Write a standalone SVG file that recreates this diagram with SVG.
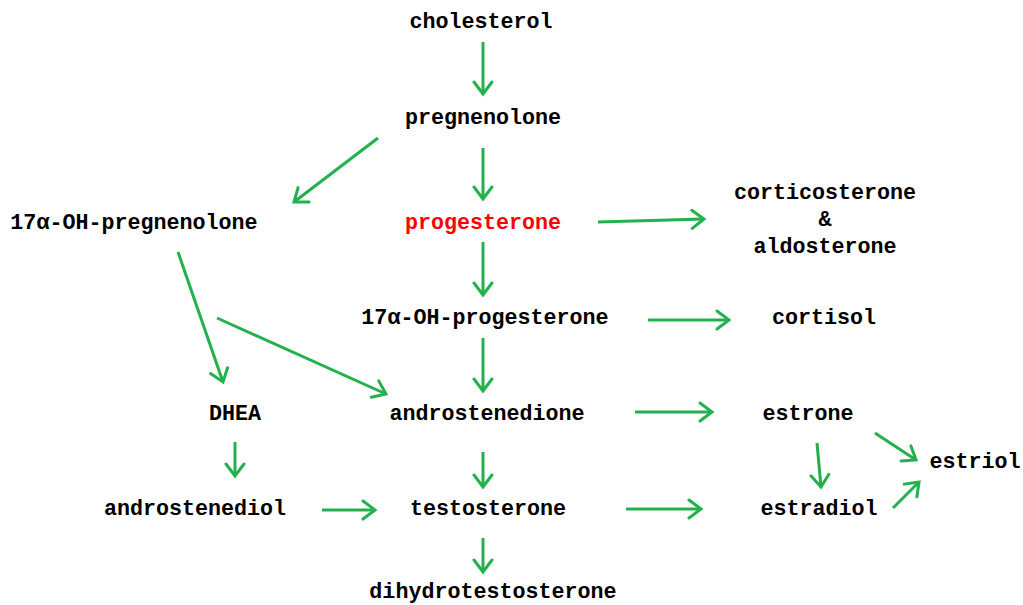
<svg xmlns="http://www.w3.org/2000/svg" width="1023" height="605" viewBox="0 0 1023 605">
<defs>
<style>
text{font-family:"Liberation Mono","Courier New",monospace;font-weight:bold;font-size:21.7px;fill:#000;text-anchor:middle}
.red{fill:#ff0000}
.c line{stroke:#22b14c;stroke-width:3;marker-end:url(#ah)}
</style>
<marker id="ah" markerUnits="userSpaceOnUse" viewBox="-16 -12 20 24" refX="0" refY="0" markerWidth="20" markerHeight="24" orient="auto">
<path d="M-12,-9 L0,0 L-12,9" fill="none" stroke="#22b14c" stroke-width="3" stroke-linecap="round" stroke-linejoin="miter"/>
</marker>
</defs>
<rect width="1023" height="605" fill="#fff"/>
<g id="cholesterol"><text x="481" y="28">cholesterol</text></g>
<g id="pregnenolone"><text x="483" y="124">pregnenolone</text></g>
<g id="oh-pregnenolone"><text x="134" y="229">17α-OH-pregnenolone</text></g>
<g id="progesterone"><text class="red" x="483" y="229">progesterone</text></g>
<g id="corticosterone"><text x="825" y="199">corticosterone</text><text x="825" y="226">&amp;</text><text x="825" y="253">aldosterone</text></g>
<g id="oh-progesterone"><text x="485" y="324">17α-OH-progesterone</text></g>
<g id="cortisol"><text x="824" y="324">cortisol</text></g>
<g id="dhea"><text x="235" y="420">DHEA</text></g>
<g id="androstenedione"><text x="487" y="420">androstenedione</text></g>
<g id="estrone"><text x="808" y="420">estrone</text></g>
<g id="estriol"><text x="975" y="468">estriol</text></g>
<g id="androstenediol"><text x="195" y="515">androstenediol</text></g>
<g id="testosterone"><text x="488" y="515">testosterone</text></g>
<g id="estradiol"><text x="819" y="515">estradiol</text></g>
<g id="dihydrotestosterone"><text x="493" y="598">dihydrotestosterone</text></g>
<g id="connectors" class="c">
<line x1="483" y1="42" x2="483" y2="94"/>
<line x1="483" y1="148" x2="483" y2="199"/>
<line x1="378" y1="138" x2="294" y2="202"/>
<line x1="598" y1="222" x2="704" y2="219"/>
<line x1="483" y1="242" x2="483" y2="295"/>
<line x1="648" y1="320" x2="729" y2="320"/>
<line x1="178" y1="252" x2="223" y2="382"/>
<line x1="217" y1="318" x2="386" y2="394"/>
<line x1="483" y1="338" x2="483" y2="391"/>
<line x1="635" y1="412" x2="712" y2="412"/>
<line x1="483" y1="452" x2="483" y2="487"/>
<line x1="235" y1="442" x2="235" y2="476"/>
<line x1="322" y1="510" x2="375" y2="510"/>
<line x1="626" y1="509" x2="701" y2="509"/>
<line x1="817" y1="443" x2="821" y2="487"/>
<line x1="875" y1="433" x2="916" y2="460"/>
<line x1="893" y1="508" x2="919" y2="482"/>
<line x1="483" y1="538" x2="483" y2="572"/>
</g>
</svg>
